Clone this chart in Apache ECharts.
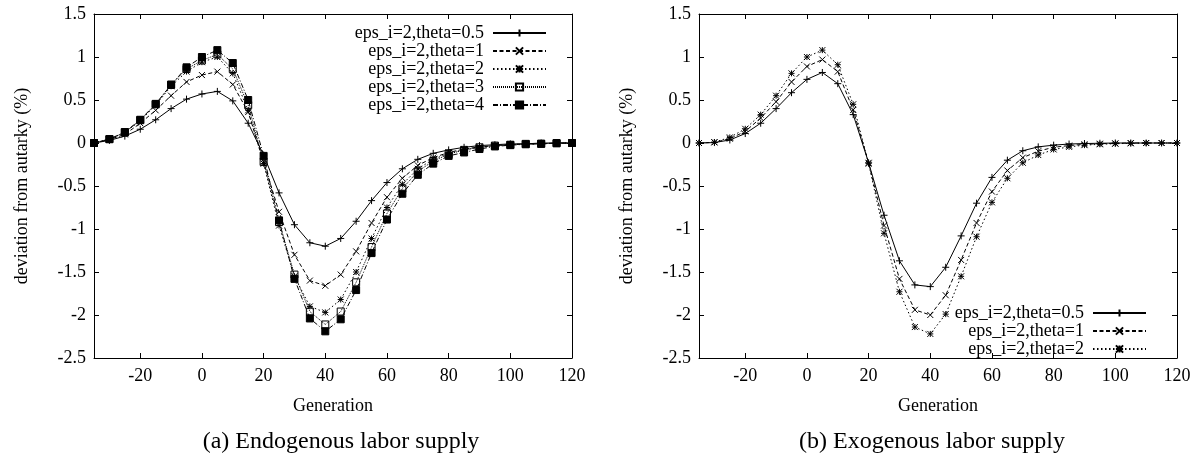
<!DOCTYPE html>
<html>
<head>
<meta charset="utf-8">
<script src="https://cdn.jsdelivr.net/npm/echarts@6/dist/echarts.min.js"></script>
<style>
  html, body { margin: 0; padding: 0; background: #fff; }
  #chart { width: 1200px; height: 459px; }
</style>
</head>
<body>
<div id="chart"></div>
<script>
// Generations on the horizontal axis
const generations = [-35, -30, -25, -20, -15, -10, -5, 0, 5, 10, 15, 20, 25, 30, 35, 40, 45, 50, 55, 60, 65, 70, 75, 80, 85, 90, 95, 100, 105, 110, 115, 120];

// (a) Endogenous labor supply: deviation from autarky (%)
const endoTheta05 = [0, 0.03, 0.08, 0.16, 0.27, 0.40, 0.51, 0.57, 0.60, 0.49, 0.23, -0.14, -0.58, -0.95, -1.16, -1.20, -1.11, -0.91, -0.67, -0.46, -0.30, -0.19, -0.12, -0.08, -0.05, -0.03, -0.02, -0.01, -0.01, 0, 0, 0];
const endoTheta1 = [0, 0.04, 0.10, 0.23, 0.38, 0.55, 0.71, 0.79, 0.83, 0.68, 0.36, -0.22, -0.80, -1.30, -1.60, -1.66, -1.53, -1.26, -0.93, -0.63, -0.41, -0.26, -0.17, -0.11, -0.07, -0.045, -0.03, -0.02, -0.01, -0.01, 0, 0];
const endoTheta2 = [0, 0.045, 0.12, 0.26, 0.44, 0.66, 0.83, 0.94, 1.00, 0.81, 0.38, -0.24, -0.96, -1.55, -1.90, -1.97, -1.82, -1.50, -1.11, -0.75, -0.48, -0.30, -0.19, -0.12, -0.08, -0.05, -0.03, -0.02, -0.01, -0.01, 0, 0];
const endoTheta3 = [0, 0.045, 0.125, 0.265, 0.45, 0.68, 0.86, 0.96, 1.03, 0.86, 0.44, -0.22, -0.92, -1.53, -1.96, -2.11, -1.96, -1.62, -1.21, -0.82, -0.53, -0.33, -0.21, -0.13, -0.08, -0.05, -0.03, -0.02, -0.01, -0.01, 0, 0];
const endoTheta4 = [0, 0.045, 0.127, 0.27, 0.455, 0.675, 0.88, 1.00, 1.08, 0.93, 0.50, -0.15, -0.90, -1.58, -2.04, -2.19, -2.05, -1.71, -1.28, -0.89, -0.59, -0.37, -0.24, -0.15, -0.11, -0.07, -0.04, -0.025, -0.015, -0.008, -0.004, 0];

// (b) Exogenous labor supply: deviation from autarky (%)
const exoTheta05 = [0, 0.005, 0.035, 0.11, 0.23, 0.40, 0.585, 0.74, 0.82, 0.69, 0.33, -0.23, -0.84, -1.37, -1.65, -1.67, -1.445, -1.08, -0.70, -0.40, -0.20, -0.09, -0.045, -0.025, -0.012, -0.006, -0.003, 0, 0, 0, 0, 0];
const exoTheta1 = [0, 0.007, 0.05, 0.135, 0.29, 0.48, 0.71, 0.89, 0.97, 0.83, 0.385, -0.23, -0.96, -1.58, -1.94, -2.00, -1.77, -1.36, -0.93, -0.565, -0.32, -0.17, -0.095, -0.05, -0.03, -0.015, -0.008, -0.004, 0, 0, 0, 0];
const exoTheta2 = [0, 0.01, 0.065, 0.165, 0.33, 0.55, 0.81, 1.00, 1.08, 0.91, 0.45, -0.24, -1.05, -1.73, -2.14, -2.22, -1.99, -1.55, -1.09, -0.69, -0.41, -0.23, -0.14, -0.075, -0.045, -0.025, -0.015, -0.008, -0.004, 0, 0, 0];

// Series names and tick labels
const names = ['eps_i=2,theta=0.5', 'eps_i=2,theta=1', 'eps_i=2,theta=2', 'eps_i=2,theta=3', 'eps_i=2,theta=4'];
const xTickValues = [-20, 0, 20, 40, 60, 80, 100, 120];
const xTitle = 'Generation';
const yTitle = 'deviation from autarky (%)';
const captions = ['(a) Endogenous labor supply', '(b) Exogenous labor supply'];

const FONT = '"Liberation Serif", "Times New Roman", serif';
const FS = 18;

// gnuplot-like point types and dash patterns, one per theta
const styles = [
  { symbol: 'path://M5,0L5,10M0,5L10,5', size: 7, fill: 'none', dash: 'solid' },
  { symbol: 'path://M0,0L10,10M10,0L0,10', size: 6, fill: 'none', dash: [4, 2.5] },
  { symbol: 'path://M0,0L10,10M10,0L0,10M5,0L5,10M0,5L10,5', size: 6, fill: 'none', dash: [1.5, 2.5] },
  { symbol: 'rect', size: 7, fill: 'none', dash: [1, 1] },
  { symbol: 'rect', size: 7, fill: '#000', dash: [5, 2, 1, 2] }
];

function pairs(ys) {
  return generations.map((g, i) => [g, ys[i]]);
}

function makeSeries(name, ys, k, axisIndex) {
  const s = styles[k];
  return {
    name: name,
    type: 'line',
    xAxisIndex: axisIndex,
    yAxisIndex: axisIndex,
    data: pairs(ys),
    symbol: s.symbol,
    symbolSize: s.size,
    showAllSymbol: true,
    animation: false,
    z: 10 - k,
    lineStyle: { color: '#000', width: 1, type: s.dash },
    itemStyle: { color: s.fill, borderColor: '#000', borderWidth: 1 },
    emphasis: { disabled: true }
  };
}

const grids = [
  { left: 94, top: 14, width: 478, height: 344 },
  { left: 699, top: 14, width: 478, height: 344 }
];

const tickStyle = { show: true, inside: true, length: 5, lineStyle: { color: '#000', width: 1 } };
const lineStyle = { show: true, onZero: false, lineStyle: { color: '#000', width: 1 } };
const textStyle = { color: '#000', fontFamily: FONT, fontSize: FS };

const xAxes = [];
const yAxes = [];
grids.forEach((g, gi) => {
  // bottom axis with labels
  xAxes.push({
    type: 'value', gridIndex: gi, min: -35, max: 120, position: 'bottom',
    axisLine: lineStyle,
    axisTick: Object.assign({}, tickStyle, { customValues: xTickValues }),
    axisLabel: Object.assign({ customValues: xTickValues, margin: 9 }, textStyle),
    splitLine: { show: false },
    name: xTitle, nameLocation: 'middle', nameGap: 39,
    nameTextStyle: textStyle
  });
  // mirrored top axis
  xAxes.push({
    type: 'value', gridIndex: gi, min: -35, max: 120, position: 'top',
    axisLine: lineStyle,
    axisTick: Object.assign({}, tickStyle, { customValues: xTickValues }),
    axisLabel: { show: false },
    splitLine: { show: false }
  });
  yAxes.push({
    type: 'value', gridIndex: gi, min: -2.5, max: 1.5, interval: 0.5, position: 'left',
    axisLine: lineStyle,
    axisTick: tickStyle,
    axisLabel: Object.assign({ margin: 8 }, textStyle),
    splitLine: { show: false },
    name: yTitle, nameLocation: 'middle', nameGap: 63, nameRotate: 90,
    nameTextStyle: textStyle
  });
  // mirrored right axis
  yAxes.push({
    type: 'value', gridIndex: gi, min: -2.5, max: 1.5, interval: 0.5, position: 'right',
    axisLine: lineStyle,
    axisTick: tickStyle,
    axisLabel: { show: false },
    splitLine: { show: false }
  });
});

const endo = [endoTheta05, endoTheta1, endoTheta2, endoTheta3, endoTheta4];
const exo = [exoTheta05, exoTheta1, exoTheta2];
const series = [];
endo.forEach((ys, k) => series.push(makeSeries(names[k], ys, k, 0)));
exo.forEach((ys, k) => series.push(makeSeries(names[k], ys, k, 2)));

const legendCommon = {
  orient: 'vertical', align: 'right', selectedMode: false,
  itemWidth: 53, itemHeight: 9, itemGap: 0,
  textStyle: { color: '#000', fontFamily: FONT, fontSize: FS, lineHeight: 18, padding: [0, 4, 0, 0] }
};

const chart = echarts.init(document.getElementById('chart'), null, { renderer: 'canvas' });
chart.setOption({
  backgroundColor: '#fff',
  animation: false,
  grid: grids,
  xAxis: xAxes,
  yAxis: yAxes,
  legend: [
    Object.assign({}, legendCommon, { data: names.slice(0, 5), right: 1200 - 552, top: 19 }),
    Object.assign({}, legendCommon, { data: names.slice(0, 3), right: 1200 - 1152, top: 299 })
  ],
  graphic: [
    { type: 'text', x: 341, y: 442, style: { text: captions[0], font: '24px ' + FONT, fill: '#000', align: 'center', verticalAlign: 'middle' } },
    { type: 'text', x: 932, y: 442, style: { text: captions[1], font: '24px ' + FONT, fill: '#000', align: 'center', verticalAlign: 'middle' } }
  ],
  series: series
});
</script>
</body>
</html>
